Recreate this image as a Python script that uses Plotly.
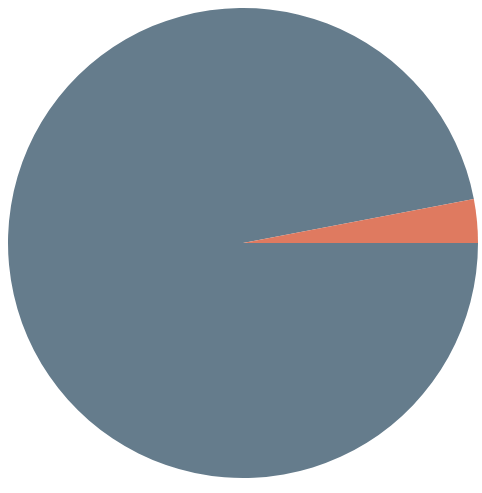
import plotly.graph_objects as go

labels = ["A", "B"]
values = [97.0, 3.0]
colors = ["#657c8c", "#df7a60"]

W, H = 482, 493

fig = go.Figure(go.Pie(
    labels=labels,
    values=values,
    sort=False,
    direction="clockwise",
    rotation=90,
    marker=dict(colors=colors, line=dict(width=0)),
    textinfo="none",
    hoverinfo="none",
    showlegend=False,
    domain=dict(x=[8 / W, 478 / W], y=[15 / H, 485 / H]),
))
fig.update_layout(
    width=W, height=H,
    margin=dict(l=0, r=0, t=0, b=0),
    paper_bgcolor="white",
    plot_bgcolor="white",
)
fig.write_html(
    "out.html",
    config={"displayModeBar": False},
    post_script="document.body.style.margin='0';document.body.style.overflow='hidden';",
)
